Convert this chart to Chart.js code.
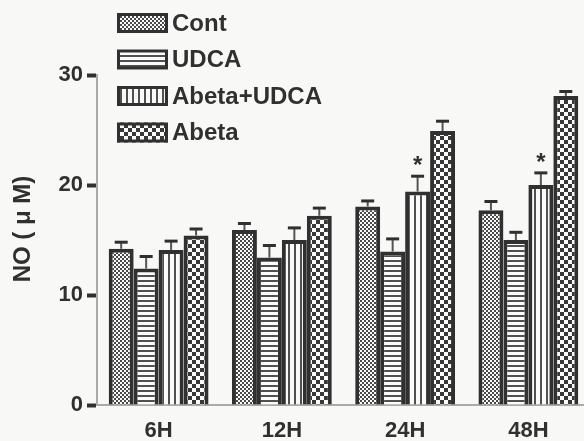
<!DOCTYPE html>
<html>
<head>
<meta charset="utf-8">
<script src="https://cdn.jsdelivr.net/npm/chart.js@4/dist/chart.umd.min.js"></script>
<style>
  html, body { margin: 0; padding: 0; background: #f8f8f6; overflow: hidden; }
  #grafico { display: block; }
</style>
</head>
<body>
<canvas id="grafico" width="590" height="441"></canvas>
<script>
// datos
const categorias = ['6H', '12H', '24H', '48H']
const series = ['Cont', 'UDCA', 'Abeta+UDCA', 'Abeta']
const valoresCont = [14.2, 15.9, 18.05, 17.7]
const valoresUdca = [12.4, 13.4, 13.95, 15.0]
const valoresAbetaUdca = [14.1, 15.0, 19.4, 20.0]
const valoresAbeta = [15.4, 17.2, 24.9, 28.1]
const errorCont = [0.6, 0.6, 0.5, 0.8]
const errorUdca = [1.1, 1.1, 1.15, 0.7]
const errorAbetaUdca = [0.8, 1.1, 1.4, 1.1]
const errorAbeta = [0.6, 0.7, 0.9, 0.4]
const marcasAbetaUdca = ['', '', '*', '*']
const ticksY = [0, 10, 20, 30]

const oscuro = '#303030'
const fuente = '"Liberation Sans", Arial, sans-serif'

// crea patrones de relleno
const crearPatron = (tamano, dibujar) => {
    const c = document.createElement('canvas')
    c.width = tamano
    c.height = tamano
    const ctx = c.getContext('2d')
    ctx.fillStyle = '#fbfbfb'
    ctx.fillRect(0, 0, tamano, tamano)
    ctx.fillStyle = '#383838'
    dibujar(ctx)
    return document.createElement('canvas').getContext('2d').createPattern(c, 'repeat')
}

const patronPuntos = crearPatron(4, ctx => {
    ctx.fillStyle = '#4a4a4a'
    ctx.fillRect(0, 0, 2, 2)
    ctx.fillRect(2, 2, 2, 2)
})
const patronHorizontal = crearPatron(5, ctx => {
    ctx.fillStyle = '#505050'
    ctx.fillRect(0, 0, 5, 2)
})
const patronVertical = crearPatron(6, ctx => {
    ctx.fillStyle = '#505050'
    ctx.fillRect(0, 0, 2, 6)
})
const patronCuadros = crearPatron(8, ctx => {
    ctx.fillRect(0, 0, 4, 4)
    ctx.fillRect(4, 4, 4, 4)
})
const patrones = [patronPuntos, patronHorizontal, patronVertical, patronCuadros]
const errores = [errorCont, errorUdca, errorAbetaUdca, errorAbeta]

// barras de error hacia arriba y asteriscos
const pluginErrores = {
    id: 'errores',
    afterDatasetsDraw(chart) {
        const ctx = chart.ctx
        const y = chart.scales.y
        chart.data.datasets.forEach((ds, i) => {
            const meta = chart.getDatasetMeta(i)
            meta.data.forEach((bar, j) => {
                const tope = y.getPixelForValue(ds.data[j] + errores[i][j])
                ctx.save()
                ctx.strokeStyle = '#555'
                ctx.lineWidth = 2
                ctx.beginPath()
                ctx.moveTo(bar.x, bar.y)
                ctx.lineTo(bar.x, tope)
                ctx.stroke()
                ctx.strokeStyle = oscuro
                ctx.lineWidth = 3
                ctx.beginPath()
                ctx.moveTo(bar.x - 6.5, tope)
                ctx.lineTo(bar.x + 6.5, tope)
                ctx.stroke()
                if (i === 2 && marcasAbetaUdca[j]) {
                    ctx.fillStyle = oscuro
                    ctx.font = 'bold 24px ' + fuente
                    ctx.textAlign = 'center'
                    ctx.textBaseline = 'middle'
                    ctx.fillText(marcasAbetaUdca[j], bar.x, tope - 10)
                }
                ctx.restore()
            })
        })
    }
}

// leyenda vertical y titulo del eje
const pluginLeyenda = {
    id: 'leyenda',
    afterDraw(chart) {
        const ctx = chart.ctx
        ctx.save()
        series.forEach((nombre, i) => {
            const yc = 23 + i * 36.5
            ctx.fillStyle = patrones[i]
            ctx.fillRect(117, yc - 10, 51, 20)
            ctx.strokeStyle = oscuro
            ctx.lineWidth = 3
            ctx.strokeRect(118.5, yc - 8.5, 48, 17)
            ctx.fillStyle = oscuro
            ctx.font = 'bold 24px ' + fuente
            ctx.textAlign = 'left'
            ctx.textBaseline = 'middle'
            ctx.fillText(nombre, 172, yc + 1)
        })
        ctx.translate(23, 229)
        ctx.rotate(-Math.PI / 2)
        ctx.textAlign = 'center'
        ctx.textBaseline = 'middle'
        ctx.font = 'bold 24px ' + fuente
        ctx.fillText('NO ( \u03BC M)', 0, 0)
        ctx.restore()
    }
}

const valores = [valoresCont, valoresUdca, valoresAbetaUdca, valoresAbeta]

new Chart(document.getElementById('grafico'), {
    type: 'bar',
    data: {
        labels: categorias,
        datasets: series.map((nombre, i) => ({
            label: nombre,
            data: valores[i],
            backgroundColor: patrones[i],
            borderColor: oscuro,
            borderWidth: 4,
            borderSkipped: 'bottom',
            categoryPercentage: 0.81,
            barPercentage: 1.0
        }))
    },
    options: {
        responsive: false,
        animation: false,
        devicePixelRatio: 1,
        layout: { padding: { top: 75, left: 0, right: 0, bottom: 0 } },
        plugins: {
            legend: { display: false },
            tooltip: { enabled: false }
        },
        scales: {
            x: {
                grid: { display: false, drawTicks: false },
                border: { display: true, color: '#aaa', width: 2 },
                ticks: {
                    color: oscuro,
                    padding: 13,
                    font: { family: fuente, size: 22, weight: 'bold' }
                },
                afterFit(scale) { scale.height = 36 }
            },
            y: {
                min: 0,
                max: 30,
                afterBuildTicks(scale) { scale.ticks = ticksY.map(v => ({ value: v })) },
                grid: {
                    drawOnChartArea: false,
                    tickLength: 10,
                    tickWidth: 4,
                    tickColor: oscuro
                },
                border: { display: true, color: '#aaa', width: 2 },
                ticks: {
                    color: oscuro,
                    padding: 4,
                    font: { family: fuente, size: 22, weight: 'bold' }
                },
                afterFit(scale) { scale.width = 97 }
            }
        }
    },
    plugins: [pluginErrores, pluginLeyenda]
})
</script>
</body>
</html>
